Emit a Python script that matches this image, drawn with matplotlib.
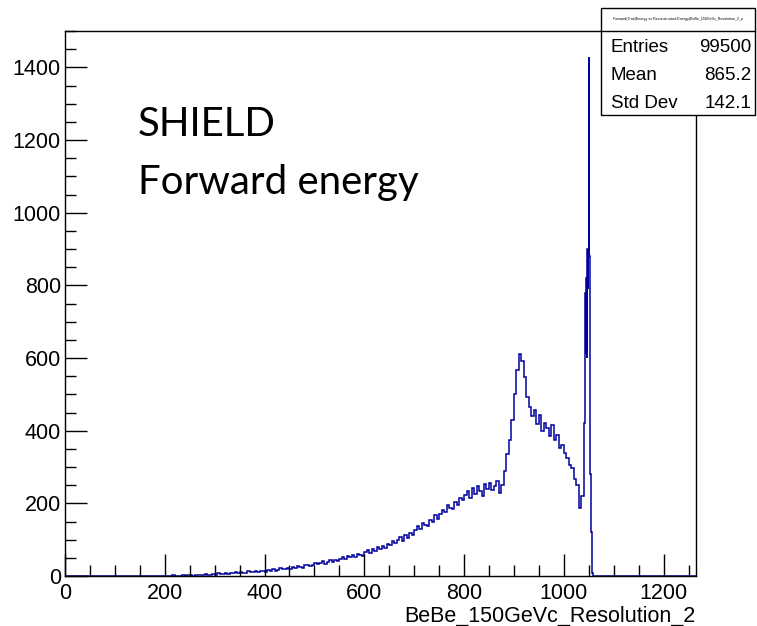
import matplotlib.pyplot as plt
import numpy as np
from matplotlib.patches import Rectangle
from matplotlib.ticker import MultipleLocator

# histogram contents
# 5-unit bins starting at 150
low_start = 150
low_width = 5
low_counts = [
    0, 0, 1, 0, 0, 0, 1, 0, 1, 0,                      # 150-195
    1, 0, 0, 2, 1, 1, 0, 2, 1, 2,                      # 200-245
    3, 1, 2, 4, 2, 3, 5, 2, 4, 5,                      # 250-295
    4, 7, 6, 5, 9, 6, 8, 7, 10, 8,                     # 300-345
    11, 8, 9, 13, 12, 10, 14, 11, 15, 13,              # 350-395
    12, 16, 15, 18, 14, 17, 21, 18, 19, 23,            # 400-445
    20, 24, 22, 27, 25, 23, 29, 31, 27, 30,            # 450-495
    35, 32, 36, 40, 34, 39, 43, 38, 45, 41,            # 500-545
    47, 52, 46, 55, 51, 58, 53, 61, 59, 56,            # 550-595
    66, 71, 64, 75, 70, 79, 74, 83, 78, 88,            # 600-645
    85, 95, 91, 99, 106, 97, 112, 104, 118, 113,       # 650-695
    126, 137, 130, 146, 141, 138, 155, 149, 167, 158,  # 700-745
    171, 182, 176, 195, 188, 184, 204, 196, 216, 209,  # 750-795
    222, 235, 214, 241, 226, 248, 233, 221, 252, 240,  # 800-845
    255, 236, 249, 262, 228, 251, 288, 336, 375, 428,  # 850-895
    502, 568, 610, 592, 548, 492, 465, 440, 458, 417,  # 900-945
    442, 398, 422, 408, 386, 415, 375, 388, 352, 360,  # 950-995
    338, 326, 305, 296, 268, 250, 188, 220,            # 1000-1035
]
# 1-unit bins starting at 1040 (the sharp peak)
peak_start = 1040
peak_width = 1
peak_counts = [260, 420, 590, 780, 610, 820, 600, 900, 790, 880,
               1428, 880, 700, 280, 190, 120, 30, 8, 3, 1]

x_min, x_max = 0, 1265
y_min, y_max = 0, 1500
x_title = "BeBe_150GeVc_Resolution_2"
hist_title = "Forward(True)Energy vs Reconstructed Energy(BeBe_150GeVc_Resolution_2_p"
stats = [("Entries", "99500"), ("Mean", "865.2"), ("Std Dev", "142.1")]
labels = ["SHIELD", "Forward energy"]

# build bin edges
low_edges = low_start + low_width * np.arange(len(low_counts) + 1)
peak_edges = peak_start + peak_width * np.arange(len(peak_counts) + 1)
edges = np.concatenate([[x_min], low_edges, peak_edges[1:], [x_max]])
counts = np.concatenate([[0], low_counts, peak_counts, [0]])

plt.rcParams['font.family'] = ['Liberation Sans', 'DejaVu Sans']

fig = plt.figure(figsize=(7.57, 6.26), dpi=100)
ax = fig.add_axes([65 / 757, 1 - 576 / 626, (696 - 65) / 757, (576 - 31) / 626])

ax.stairs(counts, edges, color='#00009c', linewidth=1.1)

ax.set_xlim(x_min, x_max)
ax.set_ylim(y_min, y_max)

# ROOT-like ticks
ax.xaxis.set_major_locator(MultipleLocator(200))
ax.xaxis.set_minor_locator(MultipleLocator(50))
ax.yaxis.set_major_locator(MultipleLocator(200))
ax.yaxis.set_minor_locator(MultipleLocator(50))
ax.tick_params(which='both', direction='in', top=False, right=False, labelsize=15.5)
ax.tick_params(which='major', length=16, width=1)
ax.tick_params(which='minor', length=8, width=1)
ax.tick_params(axis='x', pad=5)
ax.tick_params(axis='y', pad=3)
for s in ax.spines.values():
    s.set_linewidth(1)

ax.set_xlabel(x_title, fontsize=15.5, loc='right', labelpad=1)

# big labels
ax.text(0.116, 0.829, labels[0], transform=ax.transAxes, fontsize=29,
        family=['Lato', 'DejaVu Sans'], va='center', ha='left')
ax.text(0.116, 0.722, labels[1], transform=ax.transAxes, fontsize=29,
        family=['Lato', 'DejaVu Sans'], va='center', ha='left')

# stats box
bx0, bx1 = 601 / 757, 755 / 757
by0, by1 = 1 - 115 / 626, 1 - 8 / 626
fig.patches.append(Rectangle((bx0, by0), bx1 - bx0, by1 - by0, transform=fig.transFigure,
                             facecolor='white', edgecolor='black', linewidth=1, zorder=5))
fig.lines.append(plt.Line2D([bx0, bx1], [1 - 31 / 626] * 2, transform=fig.transFigure,
                            color='black', linewidth=1, zorder=6))
t = fig.text((bx0 + bx1) / 2, 1 - 19 / 626, hist_title, fontsize=2.6, ha='center', va='center',
             zorder=7)
row_y = [48, 76, 103]
for (name, val), yy in zip(stats, row_y):
    fig.text(611 / 757, 1 - yy / 626, name, fontsize=13.5, ha='left', va='center', zorder=7)
    fig.text(751 / 757, 1 - yy / 626, val, fontsize=13.5, ha='right', va='center', zorder=7)

fig.savefig("out.png", dpi=100)
